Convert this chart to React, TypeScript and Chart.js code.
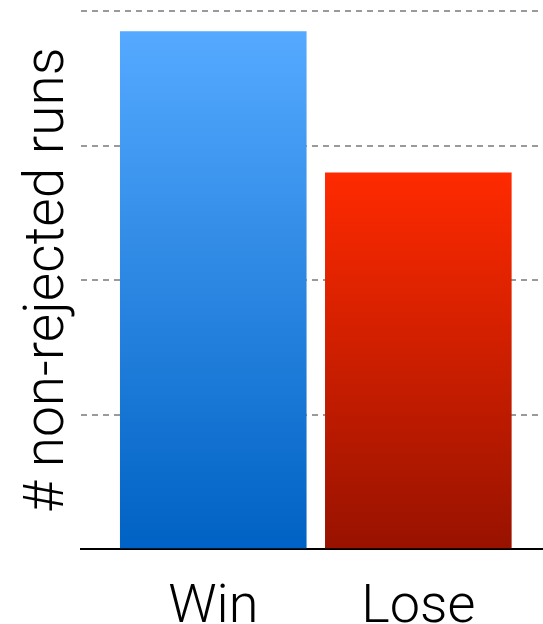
import React, { useEffect, useRef } from "react";
import { Chart, registerables } from "chart.js";

Chart.register(...registerables);

// Outcome categories and the number of non-rejected runs for each
const categories: string[] = ["Win", "Lose"];
const runCounts: number[] = [3.85, 2.8];

// Vertical gradient colours per bar (top → bottom)
const topColors: string[] = ["#55AAFF", "#FF2A00"];
const bottomColors: string[] = ["#0062C4", "#981200"];

const yTitle = "# non-rejected runs";

const FONT = "Roboto, 'Helvetica Neue', Arial, sans-serif";

export default function App() {
  const canvasRef = useRef<HTMLCanvasElement | null>(null);

  useEffect(() => {
    const canvas = canvasRef.current;
    if (!canvas) return;

    const chart = new Chart(canvas, {
      type: "bar",
      data: {
        datasets: [
          {
            data: runCounts.map((v, i) => ({ x: i, y: v })),
            categoryPercentage: 1,
            barPercentage: 0.91,
            borderWidth: 0,
            backgroundColor: (ctx: any) => {
              const c = ctx.chart;
              const y = c.scales?.y;
              const i = ctx.dataIndex ?? 0;
              if (!y || ctx.raw == null) return topColors[i] ?? topColors[0];
              const top = y.getPixelForValue(runCounts[i]);
              const bottom = y.getPixelForValue(0);
              if (!isFinite(top) || !isFinite(bottom) || top === bottom) return topColors[i];
              const g = c.ctx.createLinearGradient(0, top, 0, bottom);
              g.addColorStop(0, topColors[i]);
              g.addColorStop(1, bottomColors[i]);
              return g;
            },
          },
        ],
      },
      options: {
        animation: false,
        responsive: false,
        devicePixelRatio: 1,
        layout: { padding: { top: 11, right: 0, bottom: 0, left: 0 } },
        plugins: {
          legend: { display: false },
          tooltip: { enabled: false },
        },
        scales: {
          x: {
            type: "linear",
            offset: false,
            min: -0.645,
            max: 1.608,
            grid: { display: false, drawTicks: false },
            border: { display: true, color: "#000000", width: 2 },
            afterBuildTicks: (scale: any) => {
              scale.ticks = categories.map((_, i) => ({ value: i }));
            },
            ticks: {
              autoSkip: false,
              maxRotation: 0,
              padding: 27,
              color: "#000000",
              font: { family: FONT, size: 54, weight: 300 as any, lineHeight: 1.2 },
              callback: (value: any) => categories[Number(value)] ?? "",
            },
          },
          y: {
            min: 0,
            max: 4,
            ticks: { display: false, stepSize: 1 },
            border: { display: false, dash: [6, 5] },
            grid: {
              drawTicks: false,
              lineWidth: 2,
              color: (ctx: any) => (ctx.tick && ctx.tick.value === 0 ? "rgba(0,0,0,0)" : "#9a9a9a"),
            },
            title: {
              display: true,
              text: yTitle,
              color: "#000000",
              padding: { top: 22, bottom: 4 },
              font: { family: FONT, size: 55, weight: 300 as any, lineHeight: 1 },
            },
          },
        },
      },
    } as any);

    return () => chart.destroy();
  }, []);

  return (
    <div style={{ position: "fixed", left: 0, top: 0, width: 543, height: 668, background: "#fff" }}>
      <canvas ref={canvasRef} width={543} height={668} style={{ display: "block" }} />
    </div>
  );
}
